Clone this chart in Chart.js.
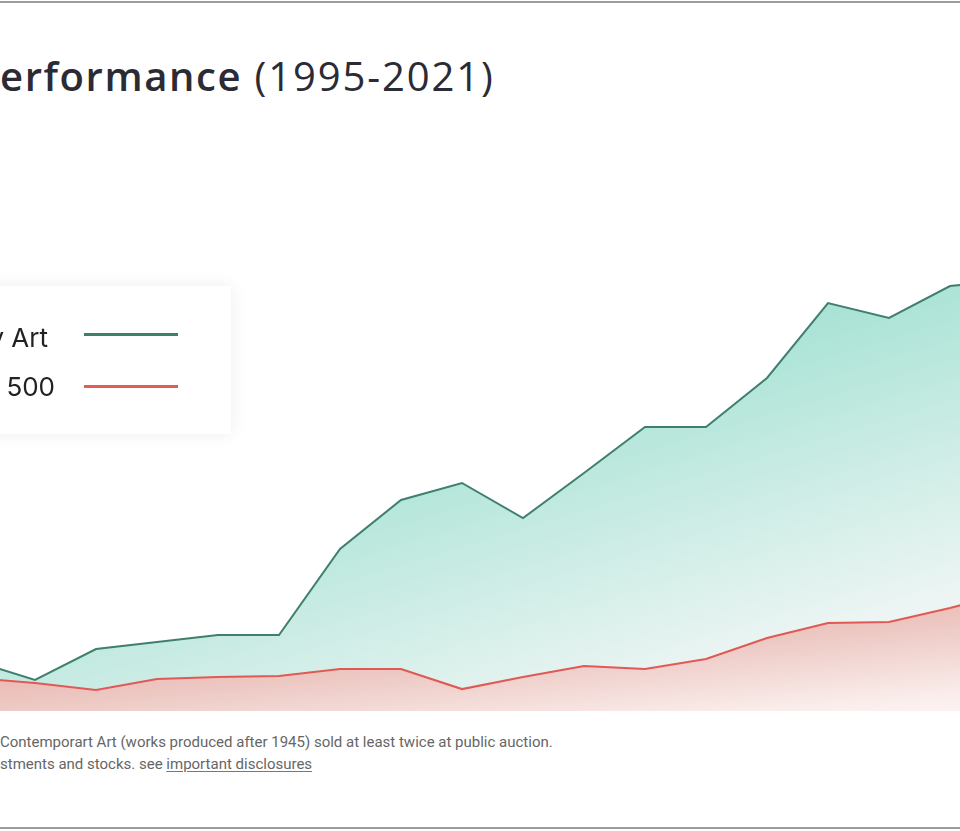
<!DOCTYPE html>
<html>
<head>
<meta charset="utf-8">
<script src="https://cdn.jsdelivr.net/npm/chart.js@4.4.1/dist/chart.umd.min.js"></script>
<style>
  html, body { margin: 0; padding: 0; background: #fff; }
  body { width: 960px; height: 831px; position: relative; overflow: hidden; }
  .frame { position: absolute; left: 0; width: 960px; height: 2px; background: #9c9c9c; }
  .title {
    position: absolute; left: 0; top: 56px; white-space: nowrap;
    font-family: 'Open Sans', sans-serif; font-size: 40px; line-height: 40px;
    letter-spacing: 1.9px; color: #2b2b36;
  }
  .title b { font-weight: 600; letter-spacing: 1.6px; }
  .chart-wrap { position: absolute; left: -26px; top: 131px; width: 1037px; height: 580px; }
  .legend {
    position: absolute; left: -120px; top: 286px; width: 351px; height: 148px;
    background: #fff; box-shadow: 0 0 18px rgba(0, 0, 0, 0.07); z-index: 2;
  }
  .legend-label {
    position: absolute; white-space: nowrap; z-index: 3;
    font-family: Inter, sans-serif; font-size: 26px; line-height: 26px; color: #222;
  }
  .legend-line { position: absolute; left: 84px; width: 94px; height: 3px; z-index: 3; }
  .note {
    position: absolute; left: 0; top: 731px; white-space: nowrap;
    font-family: Roboto, sans-serif; font-size: 15px; line-height: 22px; color: #666;
  }
  .note u { text-decoration-color: #777; text-underline-offset: 2px; }
</style>
</head>
<body>
<div class="frame" style="top:1px"></div>
<div class="frame" style="top:827px"></div>

<div class="title"><b>erformance</b> (1995-2021)</div>

<div class="chart-wrap"><canvas id="chartPerformance"></canvas></div>

<div class="legend"></div>
<div class="legend-label" style="right:912px; top:325px">Contemporary Art</div>
<div class="legend-label" style="right:905px; top:374px">S&amp;P 500</div>
<div class="legend-line" style="top:333px; background:#3f7f6e"></div>
<div class="legend-line" style="top:385px; background:#e45c58"></div>

<div class="note">
  Contemporart Art (works produced after 1945) sold at least twice at public auction.<br>
  stments and stocks. see <u>important disclosures</u>
</div>

<script>
const years = [
  '2004', '2005', '2006', '2007', '2008', '2009', '2010', '2011', '2012',
  '2013', '2014', '2015', '2016', '2017', '2018', '2019', '2020', '2021',
];
const artValues = [
  250, 155, 310, 345, 380, 380, 810, 1055, 1140,
  965, 1190, 1420, 1420, 1665, 2040, 1965, 2125, 2155,
];
const spValues = [
  165, 140, 105, 160, 170, 175, 210, 210, 110,
  170, 225, 210, 260, 365, 440, 445, 515, 595,
];

// canvas sits at page (-26, 131), gradients are given in page coords
const offX = 26;
const offY = -131;

function artFill(context) {
  const chart = context.chart;
  if (!chart.chartArea) return 'rgba(166, 226, 212, 0.6)';
  const g = chart.ctx.createLinearGradient(0 + offX, 250 + offY, 270 + offX, 1150 + offY);
  g.addColorStop(0, 'rgb(150, 218, 202)');
  g.addColorStop(0.3, 'rgb(166, 226, 212)');
  g.addColorStop(0.64, 'rgb(236, 245, 243)');
  g.addColorStop(1, 'rgb(246, 249, 248)');
  return g;
}

function spFill(context) {
  const chart = context.chart;
  if (!chart.chartArea) return 'rgba(236, 200, 195, 0.8)';
  const g = chart.ctx.createLinearGradient(0 + offX, 600 + offY, 17.5 + offX, 800 + offY);
  g.addColorStop(0, 'rgb(230, 170, 163)');
  g.addColorStop(0.4, 'rgb(236, 188, 182)');
  g.addColorStop(0.54, 'rgb(237, 201, 196)');
  g.addColorStop(0.89, 'rgb(250, 238, 236)');
  g.addColorStop(1, 'rgb(252, 244, 243)');
  return g;
}

const chartPerformance = document.getElementById('chartPerformance').getContext('2d');
const myChart = new Chart(chartPerformance, {
  type: 'line',
  data: {
    labels: years,
    datasets: [
      {
        label: 'Contemporary Art',
        data: artValues,
        borderColor: '#3f7f6e',
        borderWidth: 2,
        backgroundColor: artFill,
        fill: '+1',
      },
      {
        label: 'S&P 500',
        data: spValues,
        borderColor: '#e05a55',
        borderWidth: 2.2,
        backgroundColor: spFill,
        fill: 'origin',
      },
    ],
  },
  options: {
    responsive: true,
    maintainAspectRatio: false,
    animation: false,
    layout: { padding: 0 },
    elements: {
      line: { tension: 0 },
      point: { radius: 0, hoverRadius: 0 },
    },
    plugins: {
      legend: { display: false },
      tooltip: { enabled: false },
      filler: { drawTime: 'beforeDatasetsDraw' },
    },
    scales: {
      x: { display: false, offset: false },
      y: { display: false, min: 0, max: 2900 },
    },
  },
});
</script>
</body>
</html>
